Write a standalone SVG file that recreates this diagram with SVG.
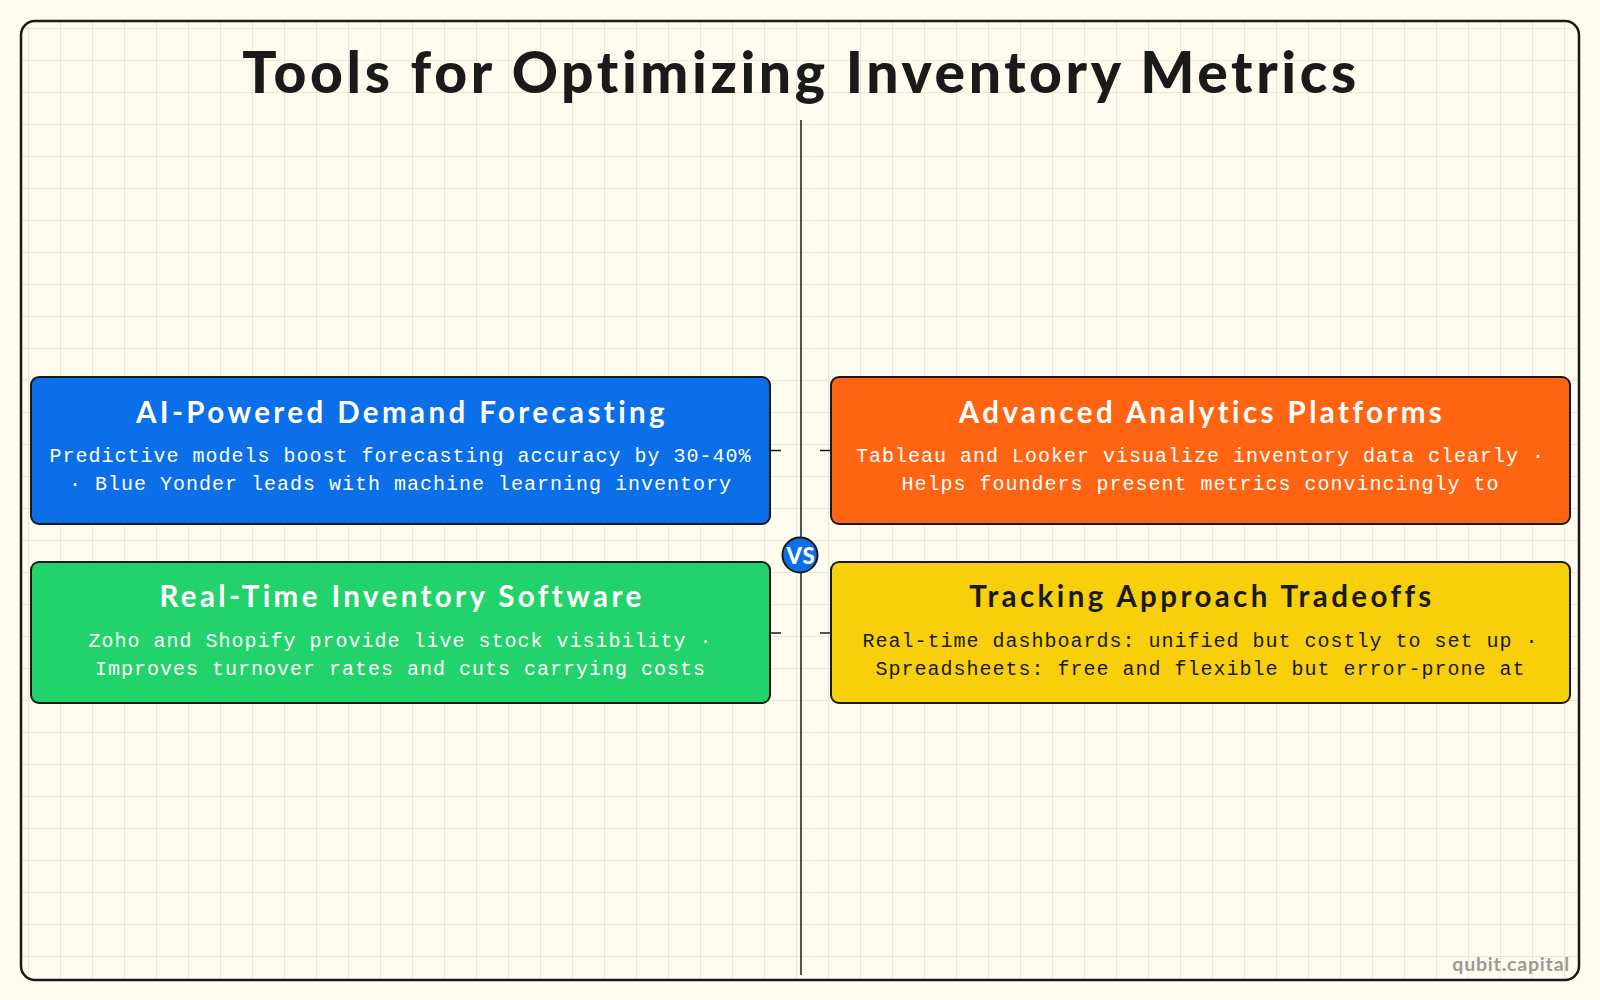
<svg xmlns="http://www.w3.org/2000/svg" width="1600" height="1000" viewBox="0 0 1600 1000">
  <defs>
    <pattern id="grid" patternUnits="userSpaceOnUse" x="28" y="28" width="32" height="32">
      <path d="M0.5 0 V32 M0 0.5 H32" fill="none" stroke="#ebe8d9" stroke-width="1"/>
    </pattern>
    <style>
      .title { font-family: Lato, "Liberation Sans", sans-serif; font-weight: 900; font-size: 57px; letter-spacing: 3.6px; fill: #1a1a1a; }
      .box { stroke: #1a1a1a; stroke-width: 2; }
      .btitle { font-family: Lato, "Liberation Sans", sans-serif; font-weight: 700; font-size: 29.5px; letter-spacing: 3.4px; fill: #ffffff; text-anchor: middle; }
      .body { font-family: "Liberation Mono", "DejaVu Sans Mono", monospace; font-size: 20px; letter-spacing: 1px; fill: #ffffff; text-anchor: middle; }
      .dark { fill: #1a1a1a; }
      .stub { stroke: #1a1a1a; stroke-width: 1.5; fill: none; }
    </style>
  </defs>
  <rect width="1600" height="1000" fill="#fffcef"/>
  <rect x="21" y="21" width="1558" height="959" rx="14" fill="#fffcef"/>
  <rect x="21" y="21" width="1558" height="959" rx="14" fill="url(#grid)"/>
  <rect x="21" y="21" width="1558" height="959" rx="14" fill="none" stroke="#1a1a1a" stroke-width="2.5"/>

  <text class="title" x="801" y="93" text-anchor="middle">Tools for Optimizing Inventory Metrics</text>

  <g id="connectors">
    <line class="stub" x1="801" y1="120" x2="801" y2="975"/>
    <line class="stub" x1="770" y1="450.5" x2="781" y2="450.5"/>
    <line class="stub" x1="770" y1="633" x2="781" y2="633"/>
    <line class="stub" x1="820" y1="450.5" x2="831" y2="450.5"/>
    <line class="stub" x1="820" y1="633" x2="831" y2="633"/>
  </g>

  <g id="node-ai">
    <rect class="box" x="31" y="377" width="739" height="147" rx="8" fill="#0a6fe8"/>
    <text class="btitle" x="402" y="423">AI-Powered Demand Forecasting</text>
    <text class="body" x="400.5" y="462">Predictive models boost forecasting accuracy by 30-40%</text>
    <text class="body" x="400.5" y="490">· Blue Yonder leads with machine learning inventory</text>
  </g>

  <g id="node-analytics">
    <rect class="box" x="831" y="377" width="739" height="147" rx="8" fill="#ff6412"/>
    <text class="btitle" x="1202" y="423">Advanced Analytics Platforms</text>
    <text class="body" x="1200.5" y="462">Tableau and Looker visualize inventory data clearly ·</text>
    <text class="body" x="1200.5" y="490">Helps founders present metrics convincingly to</text>
  </g>

  <g id="node-realtime">
    <rect class="box" x="31" y="562" width="739" height="141" rx="8" fill="#22d36b"/>
    <text class="btitle" x="402" y="607">Real-Time Inventory Software</text>
    <text class="body" x="400.5" y="647">Zoho and Shopify provide live stock visibility ·</text>
    <text class="body" x="400.5" y="675">Improves turnover rates and cuts carrying costs</text>
  </g>

  <g id="node-tradeoffs">
    <rect class="box" x="831" y="562" width="739" height="141" rx="8" fill="#f8cf0b"/>
    <text class="btitle dark" x="1202" y="607">Tracking Approach Tradeoffs</text>
    <text class="body dark" x="1200.5" y="647">Real-time dashboards: unified but costly to set up ·</text>
    <text class="body dark" x="1200.5" y="675">Spreadsheets: free and flexible but error-prone at</text>
  </g>

  <g id="node-vs">
    <circle cx="800" cy="555" r="17.5" fill="#0a6fe8" stroke="#1a1a1a" stroke-width="2"/>
    <text x="801" y="564" text-anchor="middle" font-family="Lato, 'Liberation Sans', sans-serif" font-weight="900" font-size="22" letter-spacing="1" fill="#ffffff">VS</text>
  </g>

  <text x="1570" y="971" text-anchor="end" font-family="Lato, 'Liberation Sans', sans-serif" font-weight="700" font-size="19.5" letter-spacing="0.8" fill="#9a9a96">qubit.capital</text>
</svg>
